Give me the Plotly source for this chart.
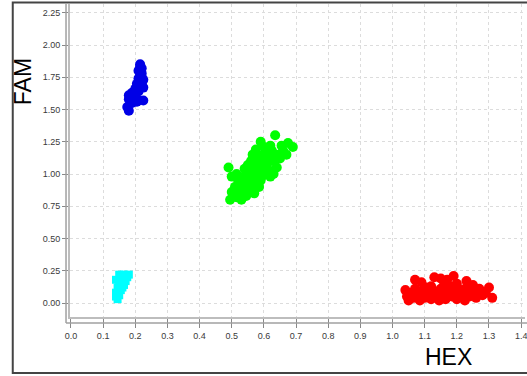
import plotly.graph_objects as go

# ---------------- data ----------------
blue_x = [0.215, 0.22, 0.21, 0.22, 0.215, 0.21, 0.225, 0.22, 0.205, 0.215, 0.225, 0.20, 0.21,
          0.19, 0.18, 0.195, 0.18, 0.21, 0.225, 0.19, 0.175, 0.18, 0.205, 0.215, 0.22]
blue_y = [1.85, 1.82, 1.80, 1.78, 1.76, 1.74, 1.73, 1.71, 1.70, 1.68, 1.67, 1.66, 1.64,
          1.63, 1.61, 1.60, 1.58, 1.57, 1.57, 1.55, 1.52, 1.49, 1.56, 1.83, 1.75]

cyan_x = [0.15, 0.165, 0.18, 0.175, 0.155, 0.17, 0.15, 0.165, 0.145, 0.155, 0.14, 0.15, 0.14,
          0.145, 0.14, 0.16]
cyan_y = [0.22, 0.22, 0.22, 0.20, 0.19, 0.17, 0.15, 0.14, 0.12, 0.10, 0.08, 0.06, 0.05,
          0.03, 0.18, 0.12]

green_x = [0.495, 0.505, 0.50, 0.515, 0.52, 0.51, 0.53, 0.525, 0.535, 0.54, 0.53, 0.545, 0.55,
           0.555, 0.545, 0.56, 0.565, 0.57, 0.575, 0.58, 0.585, 0.59, 0.595, 0.60, 0.605, 0.61,
           0.62, 0.615, 0.63, 0.625, 0.64, 0.60, 0.59, 0.635, 0.675, 0.69, 0.66, 0.65, 0.64,
           0.63, 0.62, 0.56, 0.55, 0.54, 0.57, 0.58, 0.49, 0.50, 0.515, 0.52, 0.53, 0.545,
           0.56, 0.575, 0.59, 0.60, 0.585, 0.57, 0.61, 0.575, 0.565, 0.655, 0.67, 0.62, 0.605]
green_y = [0.80, 0.83, 0.86, 0.82, 0.88, 0.90, 0.86, 0.92, 0.90, 0.95, 0.97, 0.88, 0.93,
           0.98, 1.00, 0.95, 1.02, 0.97, 1.05, 1.00, 1.07, 1.03, 1.10, 1.06, 1.12, 1.08,
           1.14, 1.03, 1.10, 1.18, 1.15, 1.21, 1.25, 1.30, 1.24, 1.21, 1.18, 1.12, 1.05,
           1.00, 0.98, 1.10, 1.07, 1.04, 1.12, 1.15, 1.05, 0.98, 1.00, 0.95, 0.80, 0.83,
           0.87, 0.92, 0.95, 0.99, 0.90, 0.85, 1.17, 1.19, 1.15, 1.22, 1.15, 1.22, 1.16]

red_x = [1.07, 1.09, 1.13, 1.15, 1.17, 1.19, 1.23,
         1.04, 1.045, 1.05, 1.06, 1.065, 1.07, 1.08, 1.085, 1.09, 1.10, 1.105, 1.11, 1.12,
         1.125, 1.13, 1.14, 1.145, 1.15, 1.16, 1.165, 1.17, 1.18, 1.185, 1.19, 1.20, 1.205,
         1.21, 1.22, 1.225, 1.23, 1.24, 1.245, 1.25, 1.26, 1.265, 1.27, 1.28, 1.29, 1.30,
         1.31, 1.20, 1.25, 1.16, 1.12]
red_y = [0.18, 0.16, 0.20, 0.19, 0.18, 0.21, 0.17,
         0.10, 0.05, 0.02, 0.08, 0.04, 0.11, 0.06, 0.02, 0.09, 0.04, 0.12, 0.07, 0.03,
         0.10, 0.05, 0.08, 0.02, 0.11, 0.06, 0.03, 0.09, 0.13, 0.05, 0.08, 0.03, 0.11,
         0.06, 0.09, 0.02, 0.12, 0.05, 0.08, 0.10, 0.04, 0.07, 0.11, 0.06, 0.08, 0.12,
         0.04, 0.15, 0.14, 0.14, 0.13]

x_ticks = [0.0, 0.1, 0.2, 0.3, 0.4, 0.5, 0.6, 0.7, 0.8, 0.9, 1.0, 1.1, 1.2, 1.3, 1.4]
x_tick_labels = ["0.0", "0.1", "0.2", "0.3", "0.4", "0.5", "0.6", "0.7", "0.8", "0.9",
                 "1.0", "1.1", "1.2", "1.3", "1.4"]
y_ticks = [0.0, 0.25, 0.5, 0.75, 1.0, 1.25, 1.5, 1.75, 2.0, 2.25]
y_tick_labels = ["0.00", "0.25", "0.50", "0.75", "1.00", "1.25", "1.50", "1.75", "2.00", "2.25"]

# ---------------- layout geometry (pixels) ----------------
W, H = 527, 376
L, R, T, B = 70, 527, 4, 317
pw, ph = R - L, B - T


def px(xp):
    return (xp - L) / pw


def py(yp):
    return (B - yp) / ph


fig = go.Figure()
fig.add_trace(go.Scatter(x=cyan_x, y=cyan_y, mode="markers",
                         marker=dict(symbol="square", size=8, color="#00ffff"), showlegend=False))
fig.add_trace(go.Scatter(x=blue_x, y=blue_y, mode="markers",
                         marker=dict(size=10, color="#0000e6"), showlegend=False))
fig.add_trace(go.Scatter(x=green_x, y=green_y, mode="markers",
                         marker=dict(size=10, color="#00ff00"), showlegend=False))
fig.add_trace(go.Scatter(x=red_x, y=red_y, mode="markers",
                         marker=dict(size=10, color="#ff0000"), showlegend=False))

tick_font = dict(family="Liberation Sans Narrow, Arial Narrow, Liberation Sans, Arial", size=9, color="#3a3a3a")

fig.update_layout(
    width=W, height=H,
    margin=dict(l=L, r=W - R, t=T, b=H - B, pad=0),
    paper_bgcolor="white", plot_bgcolor="white",
    xaxis=dict(range=[-0.003, 1.412], tickvals=x_ticks, ticktext=x_tick_labels,
               showgrid=True, gridcolor="#dcdcdc", griddash="dot", gridwidth=1,
               zeroline=False, showline=True, linecolor="#bdbdbd", linewidth=2,
               ticks="outside", ticklen=9, tickcolor="#888888", tickwidth=1,
               ticklabeloverflow="allow", tickfont=tick_font),
    yaxis=dict(range=[-0.1085, 2.318], tickvals=y_ticks, ticktext=y_tick_labels,
               showgrid=True, gridcolor="#dcdcdc", griddash="dot", gridwidth=1,
               zeroline=False, showline=True, linecolor="#bdbdbd", linewidth=2,
               ticks="outside", ticklen=6, tickcolor="#888888", tickwidth=1,
               tickfont=tick_font),
    shapes=[
        # outer axis lines
        dict(type="line", xref="paper", yref="paper", x0=px(66), x1=px(530), y0=py(323), y1=py(323),
             line=dict(color="#a0a0a0", width=1.5)),
        dict(type="line", xref="paper", yref="paper", x0=px(66), x1=px(66), y0=py(323), y1=py(4),
             line=dict(color="#a0a0a0", width=1.5)),
        # outer frame
        dict(type="rect", xref="paper", yref="paper", x0=px(12.5), x1=px(535), y0=py(373), y1=py(2.5),
             line=dict(color="#444444", width=2)),
    ],
    annotations=[
        dict(text="FAM", xref="paper", yref="paper", x=px(23), y=py(82), showarrow=False,
             textangle=-90, font=dict(family="Liberation Sans, Arial", size=23, color="black"),
             xanchor="center", yanchor="middle"),
        dict(text="HEX", xref="paper", yref="paper", x=px(450), y=py(357), showarrow=False,
             font=dict(family="Liberation Sans, Arial", size=23, color="black"),
             xanchor="center", yanchor="middle"),
    ],
)

fig.write_html("out.html", config={"displayModeBar": False},
               post_script="document.body.style.margin='0';document.body.style.overflow='hidden';")
